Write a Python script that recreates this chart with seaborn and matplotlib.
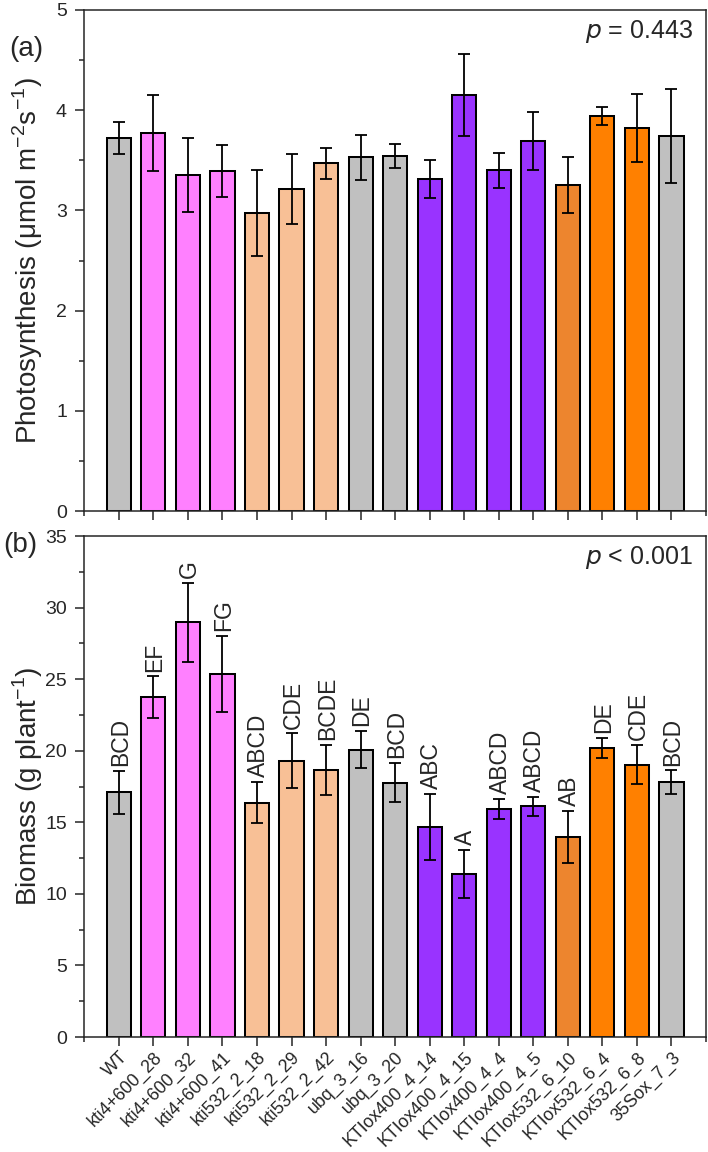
import matplotlib
matplotlib.use("Agg")
import matplotlib.pyplot as plt
import seaborn as sns
import pandas as pd
from matplotlib.ticker import MultipleLocator, FixedLocator

lines = ["WT", "kti4+600_28", "kti4+600_32", "kti4+600_41",
         "kti532_2_18", "kti532_2_29", "kti532_2_42", "ubq_3_16", "ubq_3_20",
         "KTIox400_4_14", "KTIox400_4_15", "KTIox400_4_4", "KTIox400_4_5",
         "KTIox532_6_10", "KTIox532_6_4", "KTIox532_6_8", "35Sox_7_3"]

photo_mean = [3.72, 3.77, 3.35, 3.39, 2.97, 3.21, 3.47, 3.53, 3.54,
              3.31, 4.15, 3.40, 3.69, 3.25, 3.94, 3.82, 3.74]
photo_err = [0.16, 0.38, 0.37, 0.26, 0.43, 0.35, 0.155, 0.225, 0.12,
             0.19, 0.41, 0.175, 0.29, 0.28, 0.09, 0.34, 0.47]

bio_mean = [17.1, 23.74, 28.98, 25.37, 16.37, 19.29, 18.66, 20.06, 17.77,
            14.70, 11.39, 15.96, 16.12, 13.98, 20.20, 19.01, 17.80]
bio_err = [1.5, 1.45, 2.77, 2.65, 1.42, 1.92, 1.72, 1.3, 1.35,
           2.3, 1.7, 0.7, 0.65, 1.8, 0.72, 1.37, 0.82]
bio_letters = ["BCD", "EF", "G", "FG", "ABCD", "CDE", "BCDE", "DE", "BCD",
               "ABC", "A", "ABCD", "ABCD", "AB", "DE", "CDE", "BCD"]

bar_colors = ["#C0C0C0", "#FF80FF", "#FF80FF", "#FF80FF",
              "#F8C096", "#F8C096", "#F8C096", "#C0C0C0", "#C0C0C0",
              "#9933FF", "#9933FF", "#9933FF", "#9933FF",
              "#ED852E", "#FF8000", "#FF8000", "#C0C0C0"]

df = pd.DataFrame({"line": lines, "photo": photo_mean, "photo_err": photo_err,
                   "bio": bio_mean, "bio_err": bio_err})

sns.set_style("ticks")
plt.rcParams["font.family"] = ["Liberation Sans", "DejaVu Sans"]
plt.rcParams["axes.linewidth"] = 1.1

fig = plt.figure(figsize=(7.08, 11.52), dpi=100)
ax1 = fig.add_axes([84.3 / 708, 1 - 511 / 1152, 621.7 / 708, 501 / 1152])
ax2 = fig.add_axes([84.3 / 708, 1 - 1037 / 1152, 621.7 / 708, 501 / 1152])

palette = dict(zip(lines, bar_colors))


def draw(ax, col, ecol, ymax, major, minor):
    sns.barplot(data=df, x="line", y=col, hue="line", palette=palette,
                legend=False, errorbar=None, width=0.7, saturation=1,
                edgecolor="black", linewidth=1.45, ax=ax)
    ax.errorbar(range(len(lines)), df[col], yerr=df[ecol], fmt="none",
                ecolor="black", elinewidth=1.3, capsize=4, capthick=1.3)
    ax.set_xlim(-1, 17)
    ax.set_ylim(0, ymax)
    ax.yaxis.set_major_locator(MultipleLocator(major))
    ax.yaxis.set_minor_locator(MultipleLocator(minor))
    ax.xaxis.set_minor_locator(FixedLocator([-1, 17]))
    ax.tick_params(axis="both", which="major", direction="out", length=6.5,
                   width=1.1, labelsize=14, pad=6, top=False, right=False)
    ax.tick_params(axis="both", which="minor", direction="out", length=3.5,
                   width=1.1, top=False, right=False)
    ax.set_xlabel("")
    for s in ax.spines.values():
        s.set_visible(True)
        s.set_linewidth(1.1)


draw(ax1, "photo", "photo_err", 5, 1, 0.5)
ax1.set_xticklabels([])
ax1.set_ylabel(r"Photosynthesis ($\mathregular{\mu}$mol m$^{\mathregular{-2}}$s$^{\mathregular{-1}}$)",
               fontsize=20)
ax1.yaxis.set_label_coords(-0.063, 0.5)
ax1.text(0.979, 0.944, r"$\it{p}$ = 0.443", transform=ax1.transAxes,
         ha="right", va="baseline", fontsize=18)

draw(ax2, "bio", "bio_err", 35, 5, 2.5)
ax2.set_xticks(range(len(lines)))
ax2.set_xticklabels(lines, rotation=45, ha="right", rotation_mode="anchor",
                    fontsize=12.8)
ax2.tick_params(axis="x", which="major", pad=2)
ax2.set_ylabel(r"Biomass (g plant$^{\mathregular{-1}}$)", fontsize=20)
ax2.yaxis.set_label_coords(-0.063, 0.5)
ax2.text(0.979, 0.944, r"$\it{p}$ < 0.001", transform=ax2.transAxes,
         ha="right", va="baseline", fontsize=18)
for i, (m, e, lab) in enumerate(zip(bio_mean, bio_err, bio_letters)):
    ax2.annotate(lab, (i, m + e), xytext=(1, 3.5), textcoords="offset points",
                 ha="center", va="bottom", rotation=90, fontsize=16.5)

fig.text(26 / 708, 1 - 49.5 / 1152, "(a)", fontsize=20, ha="center", va="center")
fig.text(20 / 708, 1 - 545 / 1152, "(b)", fontsize=20, ha="center", va="center")

fig.savefig("out.png", dpi=100)
